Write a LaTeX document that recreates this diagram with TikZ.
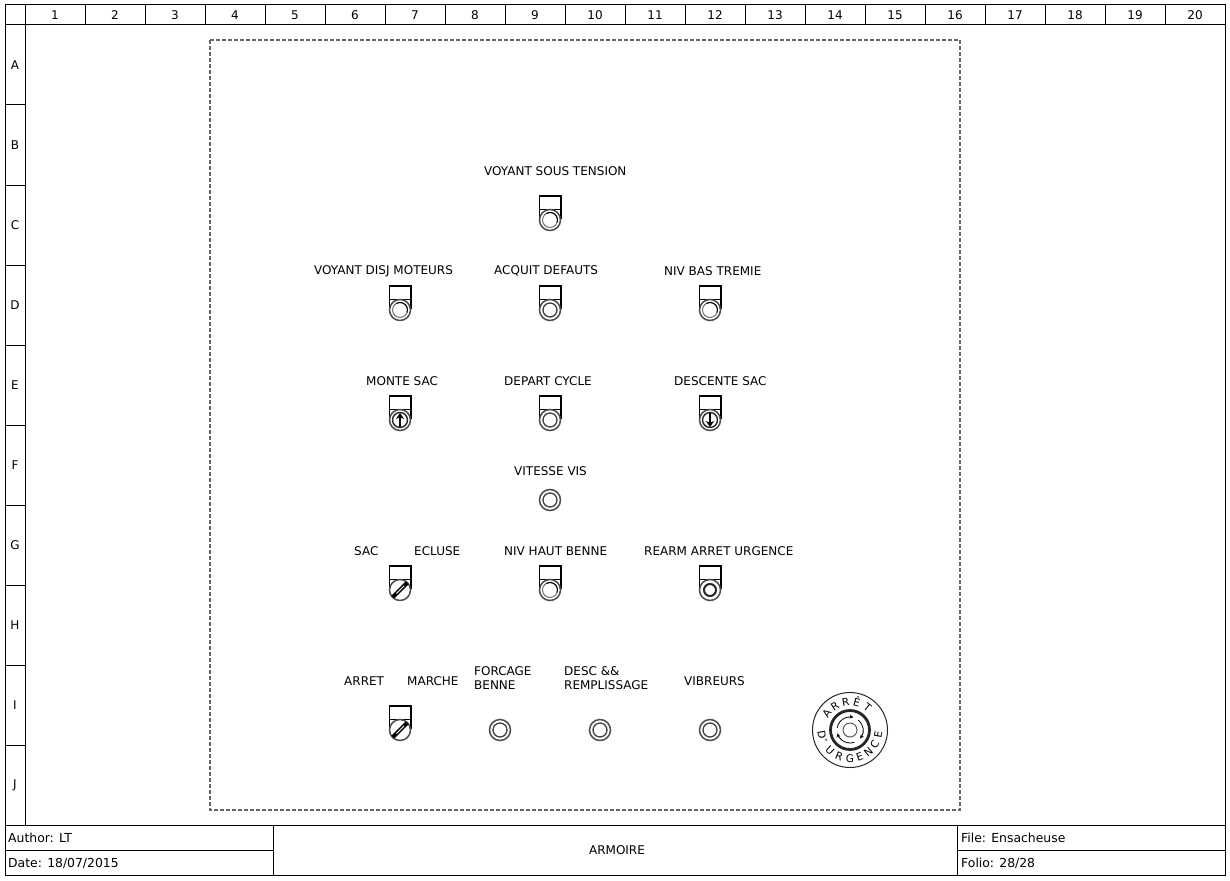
\documentclass[tikz,border=0pt]{standalone}
\usepackage{fontspec}
\setmainfont{DejaVu Sans}
\usetikzlibrary{arrows.meta,calc}

\tikzset{
  frameline/.style={line width=1pt, black},
  lbl/.style={anchor=west, inner sep=0pt, align=left, font=\fontsize{12}{14}\selectfont, text=black},
  blk/.style={lbl, font=\fontsize{12.4}{14}\selectfont},
  cell/.style={inner sep=0pt, font=\fontsize{12}{14}\selectfont, text=black},
  ltr/.style={cell, font=\fontsize{10.5}{12}\selectfont, text height=7.8pt, text depth=0pt},
  ring/.style={line width=1.5pt, black!70},
  cap/.pic={
    \draw [line width=1pt, fill=white] (-10.5,-11) -- (10.5,-11);
    \draw [line width=1.6pt] (-10.5,-11) -- (-10.5,-24) -- (11,-24) -- (11,-11);
    \draw [line width=1.4pt] (-10.5,-11) -- (-10.5,-1);
    \draw [line width=1.4pt] (11,-11) -- (11,-1);
  },
  body/.pic={
    \draw [ring, fill=white] (0,0) circle [radius=10.5pt];
  },
  lamp/.pic={
    \draw [black!55, line width=1pt] (0,0) circle [radius=7.5pt];
    \draw [black, line width=1pt] (120:7.5pt) arc (120:-20:7.5pt);
  },
  push/.pic={
    \draw [black!75, line width=1.3pt] (0,0) circle [radius=7pt];
  },
  rearm/.pic={
    \draw [black!85, line width=2pt] (0,0) circle [radius=6pt];
  },
  pusharrow/.pic={
    \draw [black!85, line width=1.4pt] (0,0) circle [radius=7.5pt];
    \draw [-{Stealth[length=6pt,width=8pt]}, line width=2pt] (0,-7) -- (0,7);
  },
  selector/.pic={
    \draw [line width=4pt] (45:10pt) -- (225:10pt);
    \draw [white, line width=0.8pt] (45:6pt) -- (225:5pt);
  },
}

\begin{document}
\begin{tikzpicture}[x=1pt, y=-1pt]
  \useasboundingbox (0,0) rectangle (1230,880);

  % folio frame
  \draw [frameline] (5,5) rectangle (1225,875);
  \draw [frameline] (5,25) -- (1225,25);
  \draw [frameline] (25,5) -- (25,825);
  \draw [frameline] (5,825) -- (1225,825);
  \foreach \n in {1,...,20} {
    \draw [frameline] ({25+60*\n},5) -- ({25+60*\n},25);
    \node [cell] (col\n) at ({60*\n-5},15) {\n};
  }
  \foreach \r [count=\n] in {A,B,C,D,E,F,G,H,I,J} {
    \draw [frameline] (5,{25+80*\n}) -- (25,{25+80*\n});
    \node [cell] (row\r) at (15,{80*\n-15}) {\r};
  }

  % title block
  \draw [frameline] (273,825) -- (273,875);
  \draw [frameline] (957,825) -- (957,875);
  \draw [frameline] (5,850) -- (273,850);
  \draw [frameline] (957,850) -- (1225,850);
  \node [blk] (author) at (8,838) {Author: LT};
  \node [blk] (date) at (8,863) {Date: 18/07/2015};
  \node [blk] (file) at (961,838) {File: Ensacheuse};
  \node [blk] (folio) at (961,863) {Folio: 28/28};
  \node [cell] (title) at (617,850) {ARMOIRE};

  % cabinet outline
  \draw [black!60, line width=1.4pt, dash pattern=on 4pt off 2pt] (210,40) rectangle (960,810);

  % capped buttons
  \foreach \x/\y/\kind in {550/220/lamp, 400/310/lamp, 550/310/push, 710/310/lamp,
      550/420/push, 550/590/lamp, 710/590/rearm, 710/420/pusharrow, 400/590/selector, 400/730/selector} {
    \draw (\x,\y) pic {cap} pic {body} pic {\kind};
  }
  \draw (400,420) pic {cap} pic {body} pic [yscale=-1] {pusharrow};

  % buttons without cap
  \foreach \x/\y in {550/500, 500/730, 600/730, 710/730} {
    \draw (\x,\y) pic {body} pic {push};
  }

  % emergency stop
  \coordinate (stop) at (850,730);
  \draw [line width=1pt, black!85] (stop) circle [radius=37.5pt];
  \draw [line width=2.8pt, black!85] (stop) circle [radius=19.5pt];
  \draw [line width=1pt, black!65] (stop) circle [radius=7pt];
  \foreach \a/\b in {170/75, 50/-40, -70/-165} {
    \draw [-{Stealth[length=4pt,width=4pt]}, line width=0.8pt] ($(stop)+(\a:13pt)$) arc (\a:\b:13pt);
  }
  \foreach \ch/\ang [count=\i] in {A/145,R/122,R/99,Ê/76,T/52} {
    \node [ltr, rotate=\ang-90] (arret\i) at ($(stop)+(\ang:28.5pt)$) {\ch};
  }
  \foreach \ch/\ang [count=\i] in {D/190,'/204,U/226,R/248,G/270,E/290,N/310,C/330,E/350} {
    \node [ltr, rotate=\ang-270] (urgence\i) at ($(stop)+(\ang:28.5pt)$) {\ch};
  }

  % labels
  \node [lbl] (sous) at (484,171) {VOYANT SOUS TENSION};
  \node [lbl] (disj) at (314,271) {VOYANT DISJ MOTEURS};
  \node [lbl] (acquit) at (494,271) {ACQUIT DEFAUTS};
  \node [lbl] (tremie) at (664,271) {NIV BAS TREMIE};
  \node [lbl] (monte) at (366,381) {MONTE SAC};
  \node [lbl] (depart) at (504,381) {DEPART CYCLE};
  \node [lbl] (descente) at (674,381) {DESCENTE SAC};
  \node [lbl] (vitesse) at (514,471) {VITESSE VIS};
  \node [lbl] (sac) at (354,551) {SAC};
  \node [lbl] (ecluse) at (414,551) {ECLUSE};
  \node [lbl] (benne) at (504,551) {NIV HAUT BENNE};
  \node [lbl] (rearmlbl) at (644,551) {REARM ARRET URGENCE};
  \node [lbl] (arret) at (344,681) {ARRET};
  \node [lbl] (marche) at (407,681) {MARCHE};
  \node [lbl] (forcage) at (474,678) {FORCAGE\\BENNE};
  \node [lbl] (desc) at (564,678) {DESC \&\&\\REMPLISSAGE};
  \node [lbl] (vibreurs) at (684,681) {VIBREURS};
\end{tikzpicture}
\end{document}
